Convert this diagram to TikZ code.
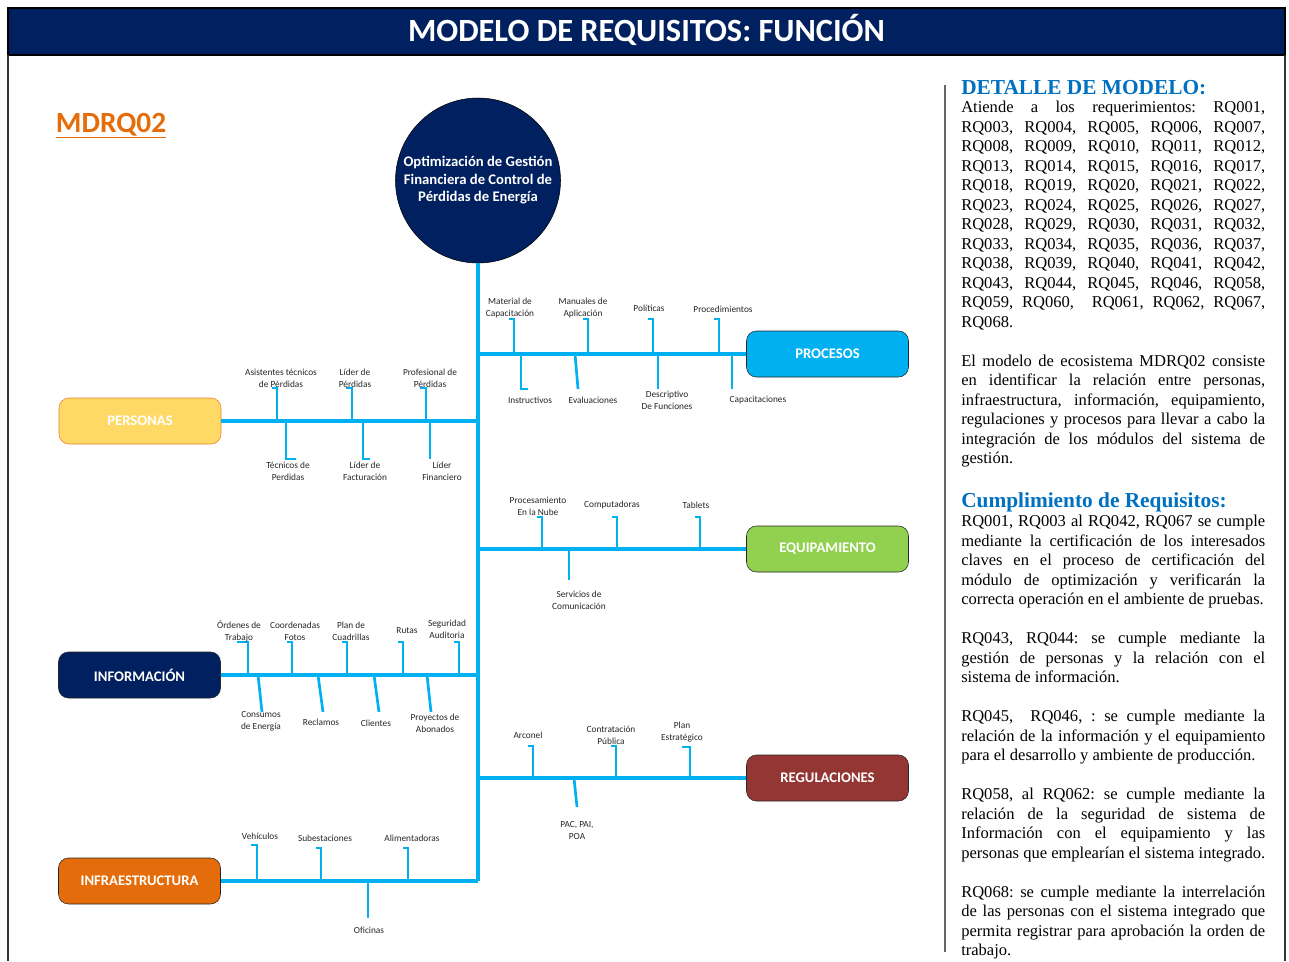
\documentclass[tikz,border=0pt]{standalone}
\usepackage{fontspec}
\setmainfont{Carlito}
\newfontfamily\tnr{Liberation Serif}
\usetikzlibrary{positioning}

\definecolor{azulosc}{RGB}{0,32,96}
\definecolor{celeste}{RGB}{0,176,240}
\definecolor{amarillo}{RGB}{255,217,102}
\definecolor{borde}{RGB}{237,125,49}
\definecolor{naranja}{RGB}{228,108,10}
\definecolor{verde}{RGB}{146,208,80}
\definecolor{vino}{RGB}{148,54,52}
\definecolor{azultit}{RGB}{0,112,192}

\begin{document}
\begin{tikzpicture}[x=0.75pt, y=-0.75pt,
  caja/.style={draw=black!85, rounded corners=7.5pt, minimum width=121.5pt, minimum height=34.5pt,
    inner sep=0pt, text=white, font=\fontsize{11}{13}\bfseries},
  rama/.style={celeste, line width=2.3pt},
  palito/.style={celeste, line width=2pt},
  etiq/.style={align=center, inner sep=0pt, text=black!85, font=\fontsize{7}{9}\selectfont},
  parrafo/.style={anchor=north west, inner sep=0pt, text width=228pt, align=justify,
    font=\tnr\fontsize{12.4}{14.625}\selectfont,
    execute at begin node={\frenchspacing\parindent=0pt\tolerance=9999\hyphenpenalty=10000\emergencystretch=2em}},
  titulo/.style={anchor=base west, inner sep=0pt, text=azultit, font=\tnr\fontsize{16}{18}\bfseries}]
  \useasboundingbox (0,0) rectangle (1289,961);

  % Title bar and frame
  \draw[fill=azulosc, draw=black, line width=0.8pt] (8,8) rectangle (1285,55);
  \node[anchor=base, inner sep=0pt, text=white, font=\fontsize{24.3}{28}\bfseries] (tit) at (646.5,41) {MODELO DE REQUISITOS: FUNCIÓN};
  \draw[black!80, line width=0.8pt] (8,55) -- (8,961);
  \draw[black!80, line width=0.8pt] (1285,55) -- (1285,961);
  \draw[black!60, line width=1.2pt] (945,85) -- (945,952);

  % Code
  \node[anchor=base, inner sep=0pt, text=naranja, font=\fontsize{22}{26}\bfseries] (cod) at (111,132) {\underline{MDRQ02}};

  % Objective
  \node[circle, fill=azulosc, draw=black, minimum size=123.75pt, inner sep=0pt, text=white, align=center,
    font=\fontsize{11}{13.1}\bfseries] (obj) at (478,180.5) {Optimización de Gestión\\Financiera de Control de\\Pérdidas de Energía};

  % Boxes
  \node[caja, fill=celeste] (proc) at (827.5,354) {PROCESOS};
  \node[caja, fill=amarillo, draw=borde] (pers) at (140,421) {PERSONAS};
  \node[caja, fill=verde] (equi) at (827.5,549) {EQUIPAMIENTO};
  \node[caja, fill=azulosc] (info) at (139.5,675) {INFORMACIÓN};
  \node[caja, fill=vino] (regu) at (827.5,778) {REGULACIONES};
  \node[caja, fill=naranja] (infra) at (139.5,881) {INFRAESTRUCTURA};

  % Spine and branches
  \draw[rama] (obj.south) -- (obj.south |- infra.east);
  \draw[rama] (proc.west) -- (proc.west -| obj.south);
  \draw[rama] (pers.east) -- (pers.east -| obj.south);
  \draw[rama] (equi.west) -- (equi.west -| obj.south);
  \draw[rama] (info.east) -- (info.east -| obj.south);
  \draw[rama] (regu.west) -- (regu.west -| obj.south);
  \draw[rama] (infra.east) -- (infra.east -| obj.south);

  % Procesos
  \foreach \n/\xa/\xb/\yb/\h/\lx/\ly/\txt in {
    mat/514/514/319/-5/510/308/{Material de\\Capacitación},
    man/588/588/319/-5/583/308/{Manuales de\\Aplicación},
    pol/653/653/319/-5/649/308/Políticas,
    prc/719/719/319/-5/723/309/Procedimientos,
    ins/521/521/389/7/530/400/Instructivos,
    eva/575/578/389/0/593/400/Evaluaciones,
    des/658/658/389/0/667/400/{Descriptivo\\De Funciones},
    cap/732/732/389/0/758/400/Capacitaciones}
  {
    \coordinate (\n-a) at (\xa,354);
    \coordinate (\n-b) at (\xb,\yb);
    \draw[palito] (\n-a) -- (\n-b) -- ++(\h,0);
    \node[etiq] (\n) at (\lx,\ly) {\txt};
  }

  % Personas
  \foreach \n/\xa/\xb/\yb/\h/\lx/\ly/\txt in {
    asi/277/277/388/-5/281/378/{Asistentes técnicos\\de Pérdidas},
    lip/352/352/388/-6/355/378/{Líder de\\Pérdidas},
    prf/426/426/388/-6/430/378/{Profesional de\\Pérdidas},
    tec/286/286/459/10/288/471/{Técnicos de\\Perdidas},
    lif/363/363/459/7/365/471/{Líder de\\Facturación},
    fin/430/430/459/0/442/471/{Líder\\Financiero}}
  {
    \coordinate (\n-a) at (\xa,421);
    \coordinate (\n-b) at (\xb,\yb);
    \draw[palito] (\n-a) -- (\n-b) -- ++(\h,0);
    \node[etiq] (\n) at (\lx,\ly) {\txt};
  }

  % Equipamiento
  \foreach \n/\xa/\xb/\yb/\h/\lx/\ly/\txt in {
    nub/542/542/517/-5/538/506/{Procesamiento\\En la Nube},
    com/617/617/517/-5/612/505/Computadoras,
    tab/700/700/517/-5/696/505/Tablets,
    ser/569/569/580/0/579/600/{Servicios de\\Comunicación}}
  {
    \coordinate (\n-a) at (\xa,549);
    \coordinate (\n-b) at (\xb,\yb);
    \draw[palito] (\n-a) -- (\n-b) -- ++(\h,0);
    \node[etiq] (\n) at (\lx,\ly) {\txt};
  }

  % Informacion
  \foreach \n/\xa/\xb/\yb/\h/\lx/\ly/\txt in {
    ord/248/248/642/-11/239/631/{Órdenes de\\Trabajo},
    coo/292/292/642/-5/295/631/{Coordenadas\\Fotos},
    cua/347/347/642/-5/351/631/{Plan de\\Cuadrillas},
    rut/403/403/642/-5/407/631/Rutas,
    seg/459/459/642/-5/447/629/{Seguridad\\Auditoria},
    con/258/262/712/0/261/721/{Consumos\\de Energía},
    rec/318/323/712/0/321/722/Reclamos,
    cli/374/379/712/0/376/723/Clientes,
    pry/427/431/712/0/435/723/{Proyectos de\\Abonados}}
  {
    \coordinate (\n-a) at (\xa,675);
    \coordinate (\n-b) at (\xb,\yb);
    \draw[palito] (\n-a) -- (\n-b) -- ++(\h,0);
    \node[etiq] (\n) at (\lx,\ly) {\txt};
  }

  % Regulaciones
  \foreach \n/\xa/\xb/\yb/\h/\lx/\ly/\txt in {
    arc/533/533/746/-5/528/735/Arconel,
    ctr/616/616/746/-5/611/735/{Contratación\\Pública},
    pla/690/690/747/-8/682/732/{Plan\\Estratégico},
    pac/574/577/807/0/577/830/{PAC, PAI,\\POA}}
  {
    \coordinate (\n-a) at (\xa,778);
    \coordinate (\n-b) at (\xb,\yb);
    \draw[palito] (\n-a) -- (\n-b) -- ++(\h,0);
    \node[etiq] (\n) at (\lx,\ly) {\txt};
  }

  % Infraestructura
  \foreach \n/\xa/\xb/\yb/\h/\lx/\ly/\txt in {
    veh/257/257/845/-6/260/836/Vehículos,
    sub/321/321/848/-5/325/838/Subestaciones,
    ali/408/408/848/-5/412/838/Alimentadoras,
    ofi/368/368/918/0/369/930/Oficinas}
  {
    \coordinate (\n-a) at (\xa,881);
    \coordinate (\n-b) at (\xb,\yb);
    \draw[palito] (\n-a) -- (\n-b) -- ++(\h,0);
    \node[etiq] (\n) at (\lx,\ly) {\txt};
  }

  % Detail text
  \node[titulo] (tdet) at (961,94) {DETALLE DE MODELO:};
  \node[parrafo] (det) at (961,101) {Atiende a los requerimientos: RQ001,\linebreak
    RQ003, RQ004, RQ005, RQ006, RQ007,\linebreak
    RQ008, RQ009, RQ010, RQ011, RQ012,\linebreak
    RQ013, RQ014, RQ015, RQ016, RQ017,\linebreak
    RQ018, RQ019, RQ020, RQ021, RQ022,\linebreak
    RQ023, RQ024, RQ025, RQ026, RQ027,\linebreak
    RQ028, RQ029, RQ030, RQ031, RQ032,\linebreak
    RQ033, RQ034, RQ035, RQ036, RQ037,\linebreak
    RQ038, RQ039, RQ040, RQ041, RQ042,\linebreak
    RQ043, RQ044, RQ045, RQ046, RQ058,\linebreak
    RQ059, RQ060,\ \ RQ061, RQ062, RQ067,\linebreak
    RQ068.\par\vspace{14.625pt}
    El modelo de ecosistema MDRQ02 consiste\linebreak
    en identificar la relación entre personas,\linebreak
    infraestructura, información, equipamiento,\linebreak
    regulaciones y procesos para llevar a cabo la\linebreak
    integración de los módulos del sistema de\linebreak
    gestión.};
  \node[titulo] (tcum) at (961,507) {Cumplimiento de Requisitos:};
  \node[parrafo] (cum) at (961,515) {RQ001, RQ003 al RQ042, RQ067 se cumple\linebreak
    mediante la certificación de los interesados\linebreak
    claves en el proceso de certificación del\linebreak
    módulo de optimización y verificarán la\linebreak
    correcta operación en el ambiente de pruebas.\par\vspace{14.625pt}
    RQ043, RQ044: se cumple mediante la\linebreak
    gestión de personas y la relación con el\linebreak
    sistema de información.\par\vspace{14.625pt}
    RQ045,\ \ RQ046, : se cumple mediante la\linebreak
    relación de la información y el equipamiento\linebreak
    para el desarrollo y ambiente de producción.\par\vspace{14.625pt}
    RQ058, al RQ062: se cumple mediante la\linebreak
    relación de la seguridad de sistema de\linebreak
    Información con el equipamiento y las\linebreak
    personas que emplearían el sistema integrado.\par\vspace{14.625pt}
    RQ068: se cumple mediante la interrelación\linebreak
    de las personas con el sistema integrado que\linebreak
    permita registrar para aprobación la orden de\linebreak
    trabajo.};
\end{tikzpicture}
\end{document}
